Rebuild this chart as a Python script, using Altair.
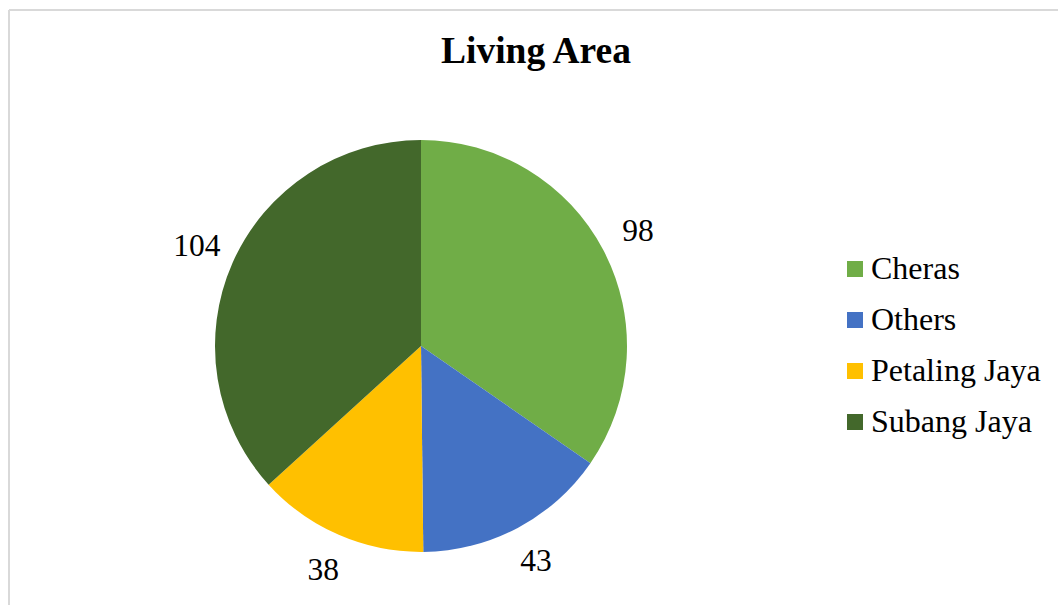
import altair as alt
import pandas as pd

categories = ["Cheras", "Others", "Petaling Jaya", "Subang Jaya"]
values = [98, 43, 38, 104]
colors = ["#70AD47", "#4472C4", "#FFC000", "#43682B"]
title_text = "Living Area"

df = pd.DataFrame({"area": categories, "count": values, "idx": list(range(len(categories)))})

FONT = "Liberation Serif"
CX, CY = 412, 336
W, H = 1049, 595

base = alt.Chart(df).encode(
    theta=alt.Theta("count:Q", stack=True),
    order=alt.Order("idx:Q"),
)

pie = base.mark_arc(outerRadius=206).encode(
    x=alt.value(CX),
    y=alt.value(CY),
    color=alt.Color(
        "area:N",
        scale=alt.Scale(domain=categories, range=colors),
        legend=alt.Legend(
            title=None,
            orient="none",
            legendX=830,
            legendY=243,
            symbolType="square",
            symbolSize=256,
            symbolStrokeWidth=0,
            labelFont=FONT,
            labelFontSize=32,
            labelColor="#000000",
            labelOffset=0,
            labelLimit=0,
            rowPadding=19,
            padding=0,
        ),
    ),
)

labels = base.mark_text(radius=245, font=FONT, fontSize=31.5, color="#000000",
                        align="center", baseline="middle").encode(
    x=alt.value(CX),
    y=alt.value(CY),
    text=alt.Text("count:Q"),
)

title = alt.Chart(pd.DataFrame({"t": [title_text]})).mark_text(
    font=FONT, fontSize=37.5, fontWeight="bold", color="#000000",
    align="center", baseline="alphabetic"
).encode(x=alt.value(527), y=alt.value(53), text="t:N")

border = alt.Chart(pd.DataFrame({"k": [0]})).mark_rule(color="#d9d9d9", strokeWidth=2)
border_left = border.encode(x=alt.value(0), y=alt.value(0), y2=alt.value(H))
border_top = border.encode(x=alt.value(0), x2=alt.value(W), y=alt.value(0))

chart = alt.layer(border_left, border_top, pie, labels, title).properties(
    width=W,
    height=H,
    autosize=alt.AutoSizeParams(type="none"),
    padding={"left": 9, "top": 10, "right": 0, "bottom": 0},
    background="white",
).configure_view(stroke=None)

chart.save("out.html", embed_options={"renderer": "svg", "actions": False})
